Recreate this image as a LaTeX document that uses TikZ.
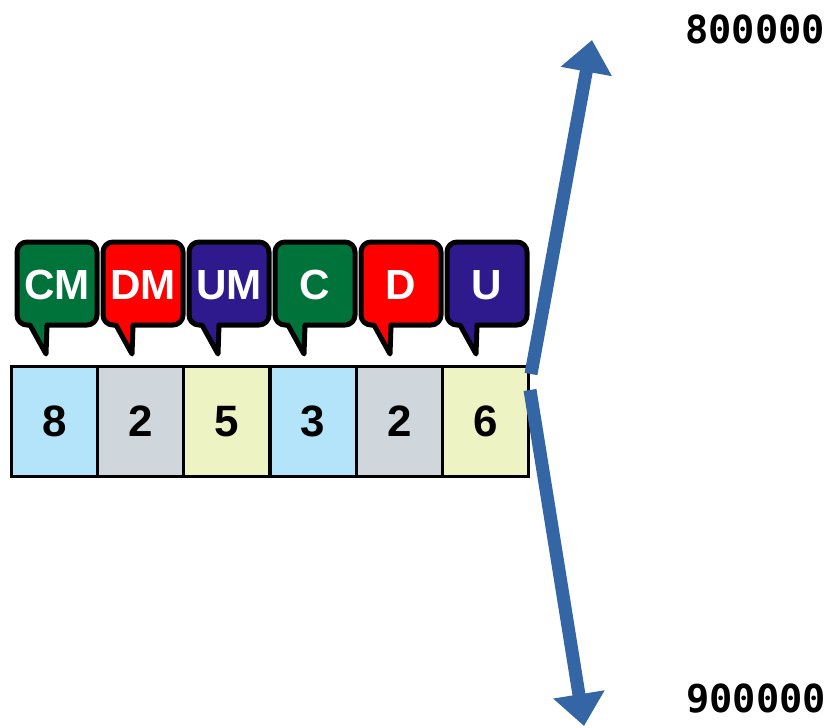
\documentclass[tikz,border=0pt]{standalone}
\usepackage{fontspec}
\setmainfont{Liberation Sans}
\newfontfamily\numfont{DejaVu Sans Mono}
\usetikzlibrary{arrows.meta}
\definecolor{tagGreen}{RGB}{0,115,58}
\definecolor{tagRed}{RGB}{255,0,0}
\definecolor{tagBlue}{RGB}{46,26,140}
\definecolor{cellBlue}{RGB}{180,228,250}
\definecolor{cellGray}{RGB}{207,215,220}
\definecolor{cellYellow}{RGB}{238,243,196}
\definecolor{arrowBlue}{RGB}{52,101,164}
\tikzset{
  tagbox/.style={draw=black, line width=0.1cm, line join=round},
  tagtext/.style={text=white, font=\fontsize{24}{24}\selectfont\bfseries, inner sep=0pt},
  cell/.style={draw=black, line width=0.06cm, minimum width=1.723cm, minimum height=2.2cm, inner sep=0pt, font=\fontsize{25}{25}\selectfont\bfseries},
  bigarrow/.style={draw=arrowBlue, line width=0.26cm, -{Triangle[width=1cm,length=0.64cm]}},
  numlabel/.style={font=\numfont\fontsize{22}{22}\selectfont\bfseries, inner sep=0pt}
}
\begin{document}
\begin{tikzpicture}[x=0.02cm, y=-0.02cm]
\useasboundingbox (0,0) rectangle (830,727);
% tags
\draw[tagbox, fill=tagGreen](46,354) -- (30,325) [rounded corners=0.2cm] -- (17,325) -- (17,242) -- (97,242) -- (97,325) [sharp corners] -- (47,325) -- cycle;
\draw[tagbox, fill=tagRed](132,354) -- (116,325) [rounded corners=0.2cm] -- (103,325) -- (103,242) -- (183,242) -- (183,325) [sharp corners] -- (133,325) -- cycle;
\draw[tagbox, fill=tagBlue](218,354) -- (202,325) [rounded corners=0.2cm] -- (189,325) -- (189,242) -- (269,242) -- (269,325) [sharp corners] -- (219,325) -- cycle;
\draw[tagbox, fill=tagGreen](304,354) -- (288,325) [rounded corners=0.2cm] -- (275,325) -- (275,242) -- (355,242) -- (355,325) [sharp corners] -- (305,325) -- cycle;
\draw[tagbox, fill=tagRed](390,354) -- (374,325) [rounded corners=0.2cm] -- (361,325) -- (361,242) -- (441,242) -- (441,325) [sharp corners] -- (391,325) -- cycle;
\draw[tagbox, fill=tagBlue](476,354) -- (460,325) [rounded corners=0.2cm] -- (447,325) -- (447,242) -- (527,242) -- (527,325) [sharp corners] -- (477,325) -- cycle;
\node[tagtext] (cm) at (57,285){CM};
\node[tagtext] (dm) at (143,285){DM};
\node[tagtext] (um) at (229,285){UM};
\node[tagtext] (c) at (315,285){C};
\node[tagtext] (d) at (401,285){D};
\node[tagtext] (u) at (487,285){U};
% digits
\node[cell, fill=cellBlue] (n8) at (54.6,421.5){8};
\node[cell, fill=cellGray] (n2a) at (140.8,421.5){2};
\node[cell, fill=cellYellow] (n5) at (226.9,421.5){5};
\node[cell, fill=cellBlue] (n3) at (313.1,421.5){3};
\node[cell, fill=cellGray] (n2b) at (399.3,421.5){2};
\node[cell, fill=cellYellow] (n6) at (485.4,421.5){6};
% arrows
\coordinate (up0) at (531,374);
\coordinate (up1) at (592,40);
\coordinate (dn0) at (530,390);
\coordinate (dn1) at (584,726);
\draw[bigarrow](up0) -- (up1);
\draw[bigarrow](dn0) -- (dn1);
\node[numlabel] (top) at (755,29){800000};
\node[numlabel] (bot) at (756,699){900000};
\end{tikzpicture}
\end{document}
